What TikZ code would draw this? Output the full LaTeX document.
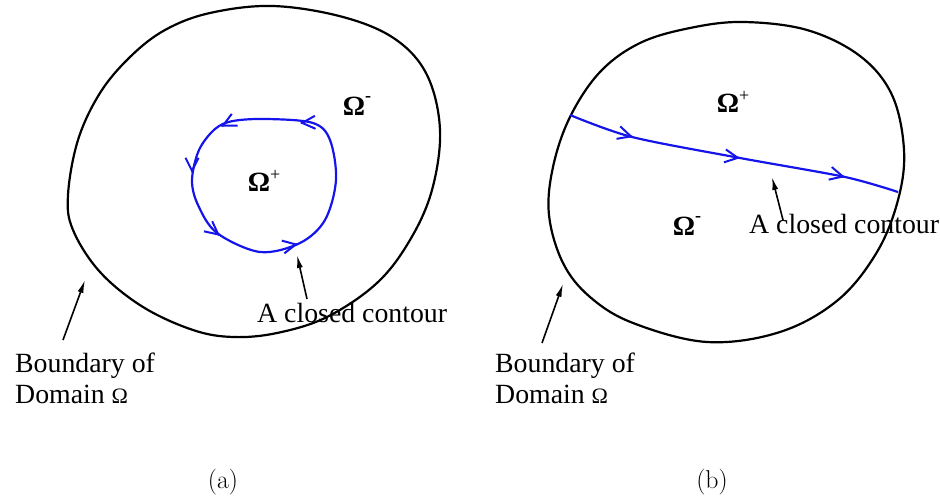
\documentclass[tikz,border=0pt]{standalone}
\usepackage{fontspec}
\newfontfamily\tms{Liberation Serif}
\usetikzlibrary{arrows.meta}
\definecolor{cblue}{RGB}{20,20,235}
\tikzset{
  blobline/.style={line width=2.2pt, black},
  contour/.style={line width=2.2pt, cblue},
  vhead/.style={cblue, line width=2pt, -{Straight Barb[length=13pt,width=13pt]}},
  pointer/.style={line width=1.6pt, -{Latex[length=13pt,width=6pt]}},
  lbl/.style={font=\tms\fontsize{27.8}{31}\selectfont, inner sep=0pt},
  sublabel/.style={font=\fontsize{25.8}{30}\selectfont, inner sep=0pt}
}
\newcommand{\OmPlus}{{\bfseries\char"03A9}\raisebox{0.42em}{\fontsize{18}{18}\selectfont +}}
\newcommand{\OmMinus}{{\bfseries\char"03A9}\raisebox{0.5em}{\fontsize{18}{18}\selectfont\bfseries -}}
\begin{document}
\begin{tikzpicture}[x=1pt,y=-1pt]
\useasboundingbox (0,0) rectangle (940,503);
% ---------- (a) ----------
\draw[blobline] plot[smooth cycle, tension=0.6] coordinates {
 (273,6) (343,17) (395,39) (427,75) (440,130) (432,190) (410,240)
 (377,283) (327,317) (277,333) (233,337) (193,330) (143,307) (100,272)
 (73,230) (68,195) (78,140) (100,93) (130,57) (165,30) (210,13)};
\draw[contour] plot[smooth cycle, tension=0.55] coordinates {
 (313,123) (267,119) (233,121) (215,129) (199,150) (192,180) (198,205) (217,233)
 (260,252) (300,243) (325,220) (336,180) (330,140)};
% arrowheads along the closed contour
\draw[vhead] (301,123) -- (300,123.05);
\draw[vhead] (222,126) -- (221,126.5);
\draw[vhead] (192,172) -- (192,173);
\draw[vhead] (219,235) -- (220,235.8);
\draw[vhead] (297,244.2) -- (298,244);
\node[lbl] (omma) at (357,106) {\OmMinus};
\node[lbl] (ompa) at (264,181) {\OmPlus};
\node[lbl, anchor=base west] (cca) at (257,322) {A closed contour};
\coordinate (ccatip) at (297,255);
\coordinate (ccatail) at (307,299);
\draw[pointer] (ccatail) -- (ccatip);
\node[lbl, anchor=base west, align=left] (bda) at (15,403) {Boundary of\\Domain {\fontsize{22}{22}\selectfont\char"03A9}};
\coordinate (bdatip) at (85,280);
\coordinate (bdatail) at (63,340);
\draw[pointer] (bdatail) -- (bdatip);
\node[sublabel] (capa) at (223,482) {(a)};
% ---------- (b) ----------
\draw[blobline] plot[smooth cycle, tension=0.6] coordinates {
 (743,22) (807,30) (860,56) (892,95) (904,150) (898,200) (877,252)
 (838,300) (780,332) (707,342) (633,323) (590,297) (563,263)
 (549,215) (553,167) (570,117) (600,72) (640,43) (690,28)};
\draw[contour] plot[smooth, tension=0.5] coordinates {(570,115) (632,137) (740,158) (845,177) (898,192)};
\draw[vhead] (632,136.7) -- (633,137);
\draw[vhead] (739,158) -- (740,158.15);
\draw[vhead] (844,176.8) -- (845,177.05);
\node[lbl] (ompb) at (733,102) {\OmPlus};
\node[lbl] (ommb) at (687,226) {\OmMinus};
\node[lbl, anchor=base west] (ccb) at (749,233) {A closed contour};
\coordinate (ccbtip) at (772,177);
\coordinate (ccbtail) at (783,220);
\draw[pointer] (ccbtail) -- (ccbtip);
\node[lbl, anchor=base west, align=left] (bdb) at (495,403) {Boundary of\\Domain {\fontsize{22}{22}\selectfont\char"03A9}};
\coordinate (bdbtip) at (563,284);
\coordinate (bdbtail) at (542,343);
\draw[pointer] (bdbtail) -- (bdbtip);
\node[sublabel] (capb) at (712,482) {(b)};
\end{tikzpicture}
\end{document}
